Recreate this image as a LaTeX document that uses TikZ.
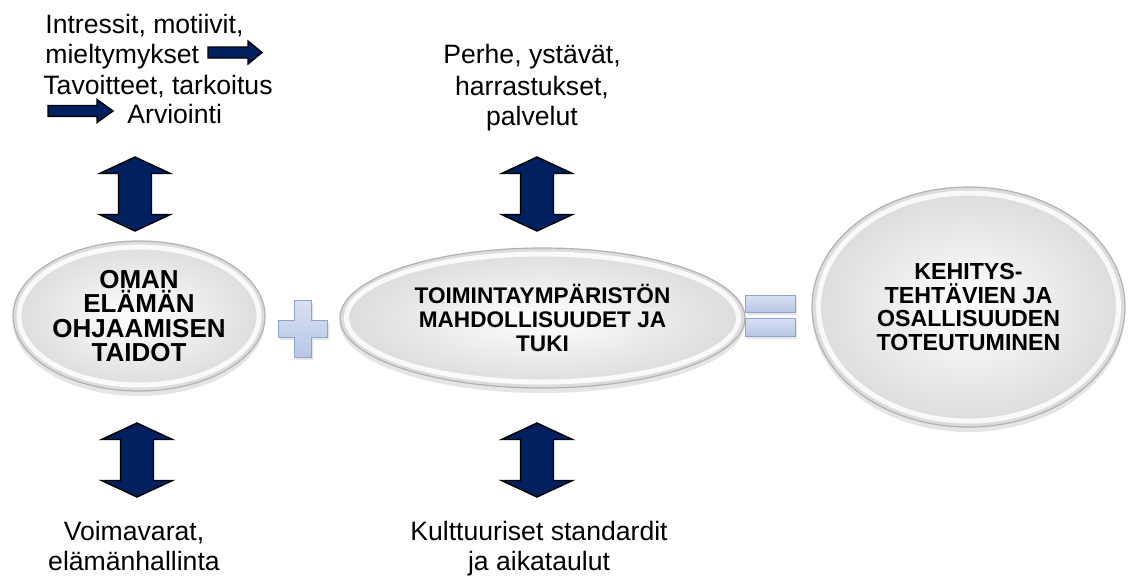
\documentclass[tikz,border=0pt]{standalone}
\usepackage{fontspec}
\setmainfont{Liberation Sans}
\usetikzlibrary{shapes.geometric,shadows}
\definecolor{navy}{HTML}{002060}
\definecolor{signfill}{HTML}{B8C7E6}
\definecolor{signedge}{HTML}{8FA3CF}
\newcommand\mytight{\lineskiplimit=-20pt\relax}
\begin{document}
\begin{tikzpicture}[x=0.5pt,y=-0.5pt,
  bubble/.style={ellipse, inner sep=0pt, align=center, shade, inner color=white, outer color=gray!28,
    draw=gray!60, line width=0.6pt,
    drop shadow={shadow xshift=0pt, shadow yshift=-2.5pt, opacity=0.2}},
  plain/.style={inner sep=0pt, font=\fontsize{13.3}{15.5}\selectfont},
  darr/.style={fill=navy, draw=black, line width=0.7pt, line join=miter},
  sign/.style={top color=signfill!55!white, bottom color=signfill, draw=signedge, line width=0.5pt,
    drop shadow={shadow xshift=1.2pt, shadow yshift=-1.5pt, opacity=0.2}},
  rim/.style={white, line width=2.5pt, opacity=0.85},
  updown/.pic={\path[darr] (0,-37) -- (35.5,-20.5) -- (16.5,-20.5) -- (16.5,20.5) -- (35.5,20.5)
      -- (0,37) -- (-35.5,20.5) -- (-16.5,20.5) -- (-16.5,-20.5) -- (-35.5,-20.5) -- cycle;}]
\fill[white] (0,0) rectangle (1128,579);
\useasboundingbox (0,0) rectangle (1128,579);

% ellipses
\node[bubble, minimum width=126pt, minimum height=75pt,
  font={\fontsize{13}{12.2}\selectfont\bfseries\mytight}] (L) at (139,316)
  {OMAN\\ELÄMÄN\\OHJAAMISEN\\TAIDOT};
\draw[rim] (L.center) ellipse [x radius=120, y radius=69];
\node[bubble, minimum width=202.5pt, minimum height=70pt,
  font={\fontsize{11.3}{11.9}\selectfont\bfseries\mytight}] (M) at (542.5,318)
  {TOIMINTAYMPÄRISTÖN\\MAHDOLLISUUDET JA\\TUKI};
\draw[rim] (M.center) ellipse [x radius=196, y radius=64];
\node[bubble, minimum width=156.5pt, minimum height=120pt,
  font={\fontsize{11.6}{11.8}\selectfont\bfseries\mytight}] (R) at (968.5,307)
  {KEHITYS-\\TEHTÄVIEN JA\\OSALLISUUDEN\\TOTEUTUMINEN};
\draw[rim] (R.center) ellipse [x radius=150, y radius=114];

% plus and equals
\path[sign] (294,300) -- (311,300) -- (311,320) -- (327,320) -- (327,337) -- (311,337)
  -- (311,357) -- (294,357) -- (294,337) -- (278,337) -- (278,320) -- (294,320) -- cycle;
\path[sign] (745,295) rectangle (795,312);
\path[sign] (745,318) rectangle (795,336);

% double arrows
\pic at (135,194) {updown};
\pic at (537,194) {updown};
\pic at (137,460) {updown};
\pic at (537,460) {updown};

% top left text
\node[plain, anchor=base west] (i1) at (45,33) {Intressit, motiivit,};
\node[plain, anchor=base west] (i2) at (45,63) {mieltymykset};
\node[plain, anchor=base west] (i3) at (43,94) {Tavoitteet, tarkoitus};
\node[plain, anchor=base west] (i4) at (127,123) {Arviointi};
\path[darr] (208,47) -- (248,47) -- (248,41) -- (262,52.5) -- (248,64) -- (248,58) -- (208,58) -- cycle;
\path[darr] (48,105.5) -- (97,105.5) -- (97,99.5) -- (113,111) -- (97,122.5) -- (97,116.5) -- (48,116.5) -- cycle;

% top middle text
\node[plain, anchor=base] (p1) at (532,63) {Perhe, ystävät,};
\node[plain, anchor=base] (p2) at (532,95) {harrastukset,};
\node[plain, anchor=base] (p3) at (532,125) {palvelut};

% bottom texts
\node[plain, anchor=base] (v1) at (134,540) {Voimavarat,};
\node[plain, anchor=base] (v2) at (134,570) {elämänhallinta};
\node[plain, anchor=base] (k1) at (539,540) {Kulttuuriset standardit};
\node[plain, anchor=base] (k2) at (539,570) {ja aikataulut};
\end{tikzpicture}
\end{document}
